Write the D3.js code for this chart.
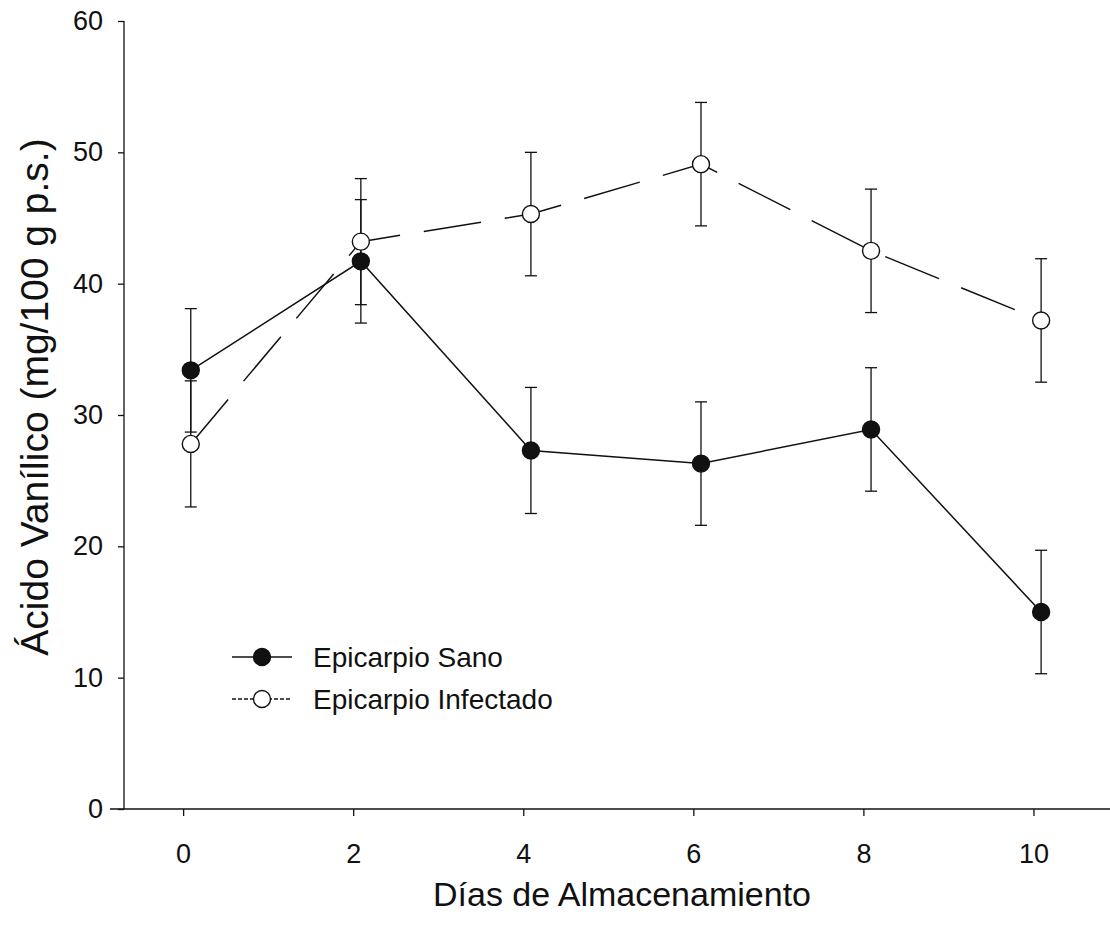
<!DOCTYPE html>
<html>
<head>
<meta charset="utf-8">
<script src="https://cdn.jsdelivr.net/npm/d3@7"></script>
<style>
  html, body { margin: 0; padding: 0; background: #fff; }
  svg text { font-family: "Liberation Sans", Arial, sans-serif; fill: #111; }
</style>
</head>
<body>
<svg id="chart" width="1110" height="942"></svg>
<script>
// Storage days
const days = [0, 2, 4, 6, 8, 10];
// Vanillic acid, mg/100 g dry weight
const sanoValues = [33.4, 41.7, 27.3, 26.3, 28.9, 15.0];
const sanoErrors = [4.7, 4.7, 4.8, 4.7, 4.7, 4.7];
const infectadoValues = [27.8, 43.2, 45.3, 49.1, 42.5, 37.2];
const infectadoErrors = [4.8, 4.8, 4.7, 4.7, 4.7, 4.7];
const xTicks = [0, 2, 4, 6, 8, 10];
const yTicks = [0, 10, 20, 30, 40, 50, 60];
const seriesNames = ["Epicarpio Sano", "Epicarpio Infectado"];

const svg = d3.select("#chart");
const ink = "#111";

// points sit slightly to the right of each day tick
const pointShift = 0.09;

const x = d3.scaleLinear().domain([-0.86, 10.9]).range([110, 1110]);
const y = d3.scaleLinear().domain([0, 60]).range([809, 21]);
const axisX = 124;

const series = [
  { name: seriesNames[0], values: sanoValues, errors: sanoErrors, filled: true, dash: null },
  { name: seriesNames[1], values: infectadoValues, errors: infectadoErrors, filled: false, dash: "58,24" }
];

// x axis
const gx = svg.append("g").attr("transform", `translate(0,${y(0)})`)
  .call(d3.axisBottom(x).tickValues(xTicks).tickSize(7).tickPadding(28).tickFormat(d3.format("d")));
gx.select(".domain").remove();
gx.append("line").attr("x1", 110).attr("x2", 1110).attr("y1", 0).attr("y2", 0)
  .attr("stroke", ink).attr("stroke-width", 1.3);
gx.selectAll(".tick line").attr("stroke", ink).attr("stroke-width", 1.3);
gx.selectAll(".tick text").attr("font-size", 27).attr("fill", ink);

// y axis
const gy = svg.append("g").attr("transform", `translate(${axisX},0)`)
  .call(d3.axisLeft(y).tickValues(yTicks).tickSize(6).tickPadding(15).tickFormat(d3.format("d")));
gy.select(".domain").remove();
gy.append("line").attr("x1", 0).attr("x2", 0).attr("y1", y(60)).attr("y2", y(0))
  .attr("stroke", ink).attr("stroke-width", 1.3);
gy.selectAll(".tick line").attr("stroke", ink).attr("stroke-width", 1.3);
gy.selectAll(".tick text").attr("font-size", 27).attr("fill", ink);

// axis titles
svg.append("text").attr("x", 622).attr("y", 906).attr("text-anchor", "middle")
  .attr("font-size", 34).text("Días de Almacenamiento");
svg.append("text").attr("transform", `translate(48,397) rotate(-90)`).attr("text-anchor", "middle")
  .attr("font-size", 39).text("Ácido Vanílico (mg/100 g p.s.)");

const plot = svg.append("g");
const capHalf = 6;

// error bars
series.forEach(s => {
  const g = plot.append("g");
  days.forEach((d, i) => {
    const cx = x(d + pointShift);
    const lo = y(s.values[i] - s.errors[i]);
    const hi = y(s.values[i] + s.errors[i]);
    g.append("line").attr("x1", cx).attr("x2", cx).attr("y1", lo).attr("y2", hi)
      .attr("stroke", ink).attr("stroke-width", 1.3);
    [lo, hi].forEach(yy => g.append("line").attr("x1", cx - capHalf).attr("x2", cx + capHalf)
      .attr("y1", yy).attr("y2", yy).attr("stroke", ink).attr("stroke-width", 1.3));
  });
});

// connecting lines
const line = d3.line().x((v, i) => x(days[i] + pointShift)).y(v => y(v));
series.forEach(s => {
  plot.append("path").datum(s.values).attr("d", line)
    .attr("fill", "none").attr("stroke", ink).attr("stroke-width", 1.5)
    .attr("stroke-dasharray", s.dash);
});

// markers
series.forEach(s => {
  plot.selectAll(null).data(s.values).enter().append("circle")
    .attr("cx", (v, i) => x(days[i] + pointShift)).attr("cy", v => y(v)).attr("r", 8.5)
    .attr("fill", s.filled ? ink : "#fff").attr("stroke", ink).attr("stroke-width", 1.4);
});

// legend
const legend = svg.append("g");
series.forEach((s, i) => {
  const ly = 657 + i * 42;
  legend.append("line").attr("x1", 232).attr("x2", 292).attr("y1", ly).attr("y2", ly)
    .attr("stroke", ink).attr("stroke-width", 1.4).attr("stroke-dasharray", s.filled ? null : "4,2");
  legend.append("circle").attr("cx", 262).attr("cy", ly).attr("r", 8.5)
    .attr("fill", s.filled ? ink : "#fff").attr("stroke", ink).attr("stroke-width", 1.4);
  legend.append("text").attr("x", 313).attr("y", ly).attr("dy", "0.35em")
    .attr("font-size", 28).text(s.name);
});
</script>
</body>
</html>
